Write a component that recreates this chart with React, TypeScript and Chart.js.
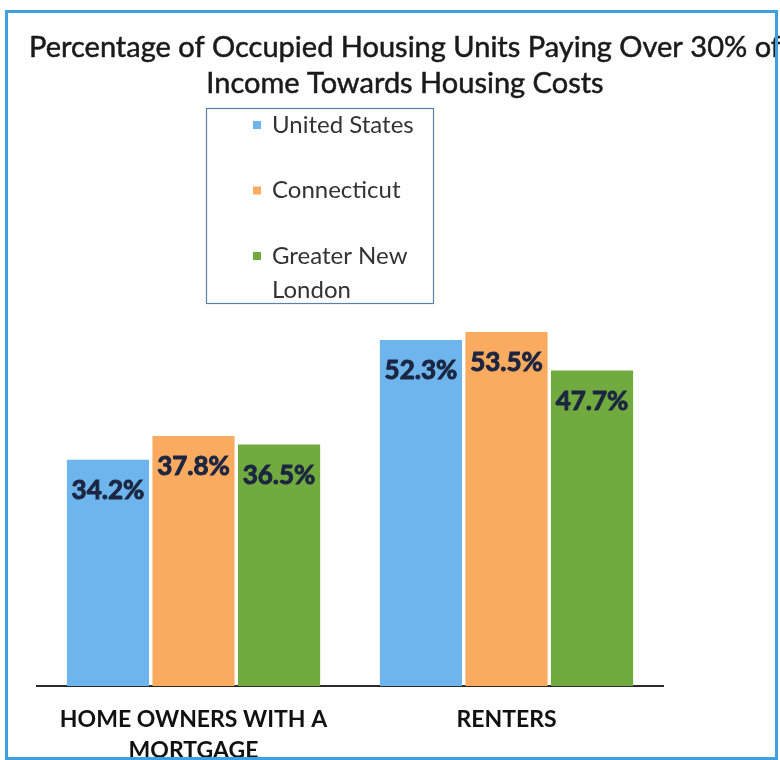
import React, { useEffect, useRef } from 'react';
import { Chart, registerables } from 'chart.js';

Chart.register(...registerables);

const titleLines = ['Percentage of Occupied Housing Units Paying Over 30% of', 'Income Towards Housing Costs'];
const categories = [['HOME OWNERS WITH A', 'MORTGAGE'], 'RENTERS'];
const seriesNames = ['United States', 'Connecticut', 'Greater New London'];
const unitedStates = [34.2, 52.3];
const connecticut = [37.8, 53.5];
const greaterNewLondon = [36.5, 47.7];
const seriesColors = ['#6db5ec', '#fbab5f', '#71ab3f'];
const yMax = 60;

const FONT = 'Lato, "Open Sans", sans-serif';

const decorPlugin = {
  id: 'decor',
  afterDraw(chart: any) {
    const ctx = chart.ctx as CanvasRenderingContext2D;
    ctx.save();
    // title
    ctx.fillStyle = '#1a1a1a';
    ctx.strokeStyle = '#1a1a1a';
    ctx.lineWidth = 0.5;
    ctx.textAlign = 'center';
    ctx.textBaseline = 'middle';
    ctx.font = `29px ${FONT}`;
    titleLines.forEach((line, i) => {
      ctx.fillText(line, 405, 48 + i * 36);
      ctx.strokeText(line, 405, 48 + i * 36);
    });

    // legend box
    ctx.fillStyle = '#ffffff';
    ctx.fillRect(206, 108, 227, 195);
    ctx.strokeStyle = '#5b7fa6';
    ctx.lineWidth = 1.2;
    ctx.strokeRect(206.5, 108.5, 227, 195);
    ctx.font = `24px ${FONT}`;
    ctx.textAlign = 'left';
    chart.data.datasets.forEach((ds: any, i: number) => {
      const words = String(ds.label).split(' ');
      const lines: string[] = [];
      let cur = '';
      words.forEach((w) => {
        const t = cur ? cur + ' ' + w : w;
        if (ctx.measureText(t).width > 150 && cur) {
          lines.push(cur);
          cur = w;
        } else cur = t;
      });
      if (cur) lines.push(cur);
      const y0 = 125 + i * 65.5;
      ctx.fillStyle = ds.backgroundColor;
      ctx.fillRect(253, y0 - 4, 8, 8);
      ctx.fillStyle = '#333333';
      lines.forEach((ln, j) => ctx.fillText(ln, 272, y0 + j * 34));
    });

    // outer frame
    ctx.strokeStyle = '#3f9fe0';
    ctx.lineWidth = 3;
    ctx.strokeRect(6.5, 11.5, 770, 747);
    ctx.restore();
  },
  afterDatasetsDraw(chart: any) {
    const ctx = chart.ctx as CanvasRenderingContext2D;
    ctx.save();
    ctx.fillStyle = '#1c2640';
    ctx.strokeStyle = '#1c2640';
    ctx.lineWidth = 1;
    ctx.font = `bold 26px ${FONT}`;
    ctx.textAlign = 'center';
    ctx.textBaseline = 'middle';
    chart.data.datasets.forEach((ds: any, i: number) => {
      const meta = chart.getDatasetMeta(i);
      meta.data.forEach((el: any, j: number) => {
        const txt = ds.data[j].toFixed(1) + '%';
        ctx.fillText(txt, el.x, el.y + 31);
        ctx.strokeText(txt, el.x, el.y + 31);
      });
    });
    ctx.restore();
  },
};

export default function App() {
  const ref = useRef<HTMLCanvasElement | null>(null);
  useEffect(() => {
    if (!ref.current) return;
    const chart = new Chart(ref.current, {
      type: 'bar',
      data: {
        labels: categories as any,
        datasets: [
          { label: seriesNames[0], data: unitedStates, backgroundColor: seriesColors[0] },
          { label: seriesNames[1], data: connecticut, backgroundColor: seriesColors[1] },
          { label: seriesNames[2], data: greaterNewLondon, backgroundColor: seriesColors[2] },
        ],
      },
      options: {
        responsive: false,
        animation: false,
        devicePixelRatio: 1,
        layout: { padding: { top: 289, left: 37, right: 117, bottom: 0 } },
        datasets: { bar: { barPercentage: 0.96, categoryPercentage: 0.82 } } as any,
        plugins: { legend: { display: false }, title: { display: false }, tooltip: { enabled: false } },
        scales: {
          x: {
            grid: { display: false, drawTicks: false },
            border: { display: true, color: '#2b2b2b', width: 2 },
            ticks: { color: '#111111', font: { family: FONT, size: 23, weight: 'bold', lineHeight: 1.36 }, padding: 18, maxRotation: 0, autoSkip: false },
            afterFit: (scale: any) => { scale.height = 74; },
          },
          y: { display: false, min: 0, max: yMax },
        },
      },
      plugins: [decorPlugin],
    });
    return () => chart.destroy();
  }, []);
  return (
    <div style={{ position: 'fixed', left: 0, top: 0, width: 780, height: 760, background: '#fff' }}>
      <canvas ref={ref} width={780} height={760} style={{ width: 780, height: 760, display: 'block' }} />
    </div>
  );
}
